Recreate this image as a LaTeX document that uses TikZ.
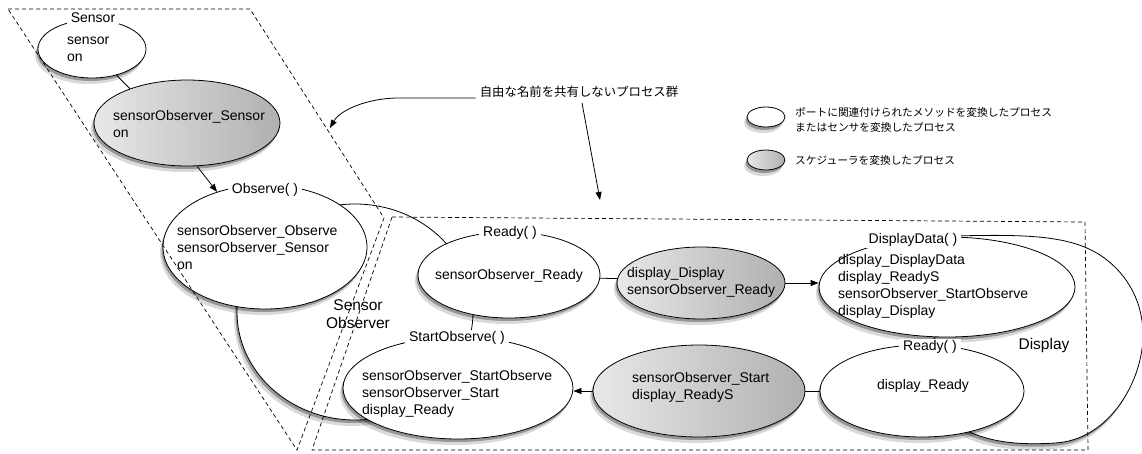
\documentclass[tikz,border=0pt]{standalone}
\usepackage{fontspec}
\setmainfont{Liberation Sans}
\newfontfamily\cjk{Noto Sans CJK JP}
\usetikzlibrary{shapes.geometric,shadows,arrows.meta}
\tikzset{
  shd/.style={drop shadow={shadow xshift=-1.5pt,shadow yshift=-3pt,opacity=0.3,fill=black},
              drop shadow={shadow xshift=-3pt,shadow yshift=-6pt,opacity=0.15,fill=black}},
  proc/.style={ellipse,draw,line width=0.8pt,fill=white,inner sep=0pt,shd},
  sched/.style={proc,left color=gray!18,right color=gray!62},
  grpshape/.style={draw,line width=0.8pt,fill=white,shd},
  grp/.style={draw,dash pattern=on 4pt off 3pt,line width=0.7pt},
  txt/.style={font=\fontsize{14}{17}\selectfont,align=left,inner sep=0pt},
  lbl/.style={font=\fontsize{14}{17}\selectfont,fill=white,inner xsep=4pt,inner ysep=1pt},
  big/.style={font=\fontsize{15.5}{18}\selectfont,align=center,inner sep=0pt},
  note/.style={font=\cjk\fontsize{10.7}{15}\selectfont,align=left,inner sep=0pt},
  arr/.style={-{Triangle[length=8pt,width=6pt]},line width=0.8pt},
  conn/.style={line width=0.8pt},
}
\begin{document}
\begin{tikzpicture}[x=1pt,y=-1pt]
\useasboundingbox (0,0) rectangle (1142,453);
% group shapes (behind)
\node[proc,minimum width=236pt,minimum height=216pt] (sogrp) at (355,312) {};
\path[grpshape] (955,236) .. controls (1030,234) and (1070,236) .. (1100,255)
  .. controls (1130,275) and (1143,305) .. (1143,335)
  .. controls (1143,380) and (1110,440) .. (1055,443)
  .. controls (1010,446) and (975,440) .. (950,420)
  .. controls (935,400) and (935,370) .. (935,345)
  .. controls (935,300) and (940,260) .. (955,236) -- cycle;
% processes
\node[proc,minimum width=108pt,minimum height=58pt] (sensor) at (92,49) {};
\node[sched,minimum width=186pt,minimum height=86pt] (sos) at (187,123) {};
\node[proc,minimum width=204pt,minimum height=124pt] (obs) at (265,247) {};
\node[proc,minimum width=182pt,minimum height=86pt] (ready) at (509,275) {};
\node[sched,minimum width=168pt,minimum height=72pt] (g2) at (701,283) {};
\node[proc,minimum width=256pt,minimum height=100pt] (dd) at (947,287) {};
\node[proc,minimum width=204pt,minimum height=92pt] (dr) at (922,391) {};
\node[sched,minimum width=212pt,minimum height=92pt] (g3) at (699,391) {};
\node[proc,minimum width=230pt,minimum height=102pt] (so) at (458,388) {};
% connectors
\draw[conn] (sensor.-47) -- (sos.149);
\draw[arr] (sos.-77) -- (obs.131);
\draw[conn] (ready.-2) -- (g2.177);
\draw[arr] (g2.east) -- (g2.east -| dd.west);
\draw[conn] (dr.west) -- (g3.east);
\draw[arr] (g3.west) -- (g3.west -| so.east);
% port labels
\node[lbl] (sensorlbl) at (93,18) {Sensor};
\node[lbl] (obslbl) at (265,190) {Observe( )};
\node[lbl] (readylbl) at (510,233) {Ready( )};
\node[lbl] (solbl) at (457,338) {StartObserve( )};
\node[lbl] (ddlbl) at (913,240) {DisplayData( )};
\node[lbl] (drlbl) at (930,347) {Ready( )};
% texts
\node[txt,anchor=west] (sensortxt) at (67,49) {sensor\\on};
\node[txt,anchor=west] (sostxt) at (113,124) {sensorObserver\_Sensor\\on};
\node[txt,anchor=west] (obstxt) at (177,247) {sensorObserver\_Observe\\sensorObserver\_Sensor\\on};
\node[big] (sogrplbl) at (358,314) {Sensor\\Observer};
\node[txt] (readytxt) at (509,276) {sensorObserver\_Ready};
\node[txt,anchor=west] (g2txt) at (627,282) {display\_Display\\sensorObserver\_Ready};
\node[txt,anchor=west] (ddtxt) at (838,286) {display\_DisplayData\\display\_ReadyS\\sensorObserver\_StartObserve\\display\_Display};
\node[big] (displbl) at (1044,345) {Display};
\node[txt] (drtxt) at (923,386) {display\_Ready};
\node[txt,anchor=west] (g3txt) at (632,387) {sensorObserver\_Start\\display\_ReadyS};
\node[txt,anchor=west] (sotxt) at (362,394) {sensorObserver\_StartObserve\\sensorObserver\_Start\\display\_Ready};
% legend
\node[proc,minimum width=38pt,minimum height=20pt] (leg1) at (766,117) {};
\node[note,anchor=west] (leg1txt) at (795,119.5) {ポートに関連付けられたメソッドを変換したプロセス\\またはセンサを変換したプロセス};
\node[sched,minimum width=38pt,minimum height=20pt] (leg2) at (766,160) {};
\node[note,anchor=west] (leg2txt) at (795,160) {スケジューラを変換したプロセス};
% dashed groups
\draw[grp] (8,9) -- (250,9) -- (384,218) -- (297,450) -- cycle;
\draw[grp] (392,217) -- (1085,222) -- (1088,450) -- (312,450) -- cycle;
% callout
\node[font=\cjk\fontsize{12.4}{15}\selectfont,inner xsep=4pt,inner ysep=0pt] (callout) at (579,92) {自由な名前を共有しないプロセス群};
\coordinate (t1) at (330,128);
\coordinate (t2) at (600,200);
\draw[arr] (callout.south west) -- ++(-76,0) .. controls +(-32,0) and (340,110) .. (t1);
\draw[arr] ([xshift=3pt,yshift=-5pt]callout.south) -- (t2);
\end{tikzpicture}
\end{document}
